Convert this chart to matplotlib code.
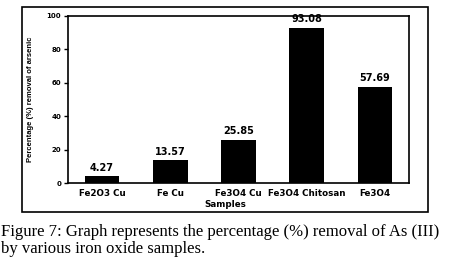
import matplotlib
matplotlib.use("Agg")
import matplotlib.pyplot as plt
from matplotlib.patches import Rectangle

samples = ["Fe2O3 Cu", "Fe Cu", "Fe3O4 Cu", "Fe3O4 Chitosan", "Fe3O4"]
removal = [4.27, 13.57, 25.85, 93.08, 57.69]
yticks = [0, 20, 40, 60, 80, 100]

fig = plt.figure(figsize=(4.49, 2.75), dpi=100)

# outer frame around the plot
fig.patches.append(Rectangle((22 / 449, 63 / 275), 406 / 449, 205 / 275,
                             transform=fig.transFigure, fill=False,
                             edgecolor="black", linewidth=1.2))

ax = fig.add_axes([68 / 449, 92 / 275, 341 / 449, 167 / 275])
x = range(len(samples))
ax.bar(x, removal, width=0.51, color="black")
for xi, v in zip(x, removal):
    ax.text(xi, v + 2, f"{v:.2f}", ha="center", va="bottom",
            fontsize=7, fontweight="bold", family="DejaVu Sans")

ax.set_xlim(-0.5, 4.5)
ax.set_ylim(0, 100)
ax.set_yticks(yticks)
ax.set_xticks(list(x))
ax.set_xticklabels(samples, fontsize=6.3, fontweight="bold", family="DejaVu Sans")
ax.set_yticklabels([str(t) for t in yticks], fontsize=5, fontweight="bold", family="DejaVu Sans")
ax.tick_params(axis="x", length=0, pad=4)
ax.tick_params(axis="y", length=3, width=1, pad=2)
for s in ax.spines.values():
    s.set_linewidth(1.2)
ax.set_xlabel("Samples", fontsize=6.3, fontweight="bold", family="DejaVu Sans")
ax.xaxis.set_label_coords((225 - 68) / 341, -0.10)
ax.set_ylabel("Percentage (%) removal of arsenic", fontsize=5.5, fontweight="bold",
              family="Liberation Sans")
ax.yaxis.set_label_coords(-(68 - 34) / 341, 0.5)

fig.text(0.002, 1 - 232 / 275, "Figure 7: Graph represents the percentage (%) removal of As (III)",
         fontsize=12, family="Liberation Serif", va="center", ha="left")
fig.text(0.002, 1 - 249 / 275, "by various iron oxide samples.",
         fontsize=12, family="Liberation Serif", va="center", ha="left")

fig.savefig("out.png", dpi=100)
